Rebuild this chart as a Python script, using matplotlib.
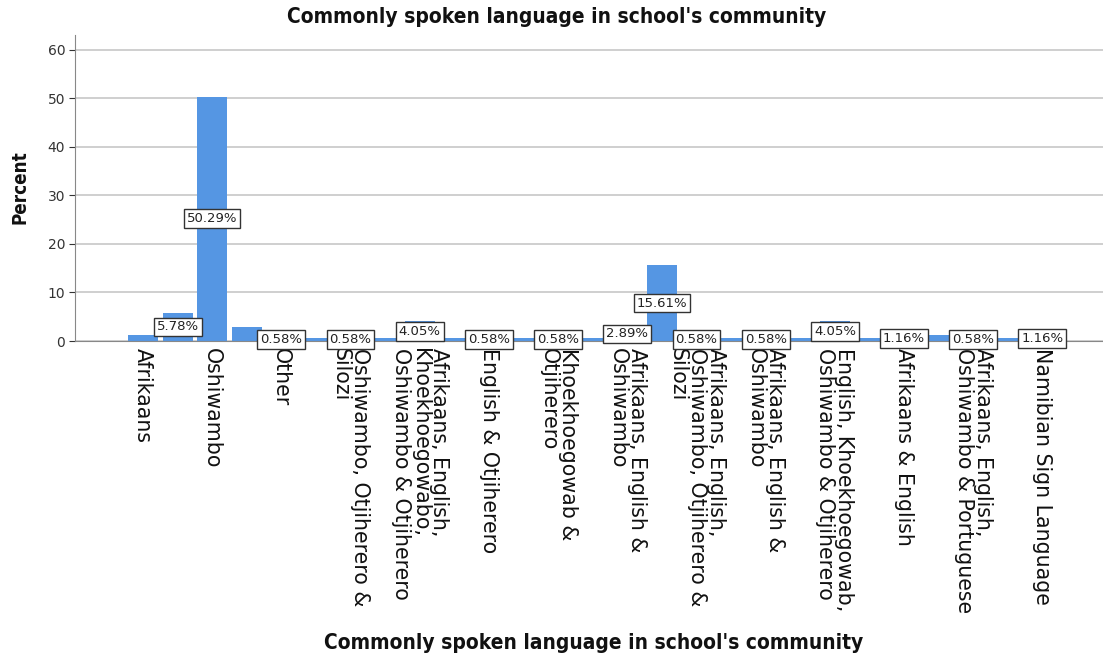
import matplotlib
matplotlib.use("Agg")
import matplotlib.pyplot as plt
import numpy as np

# Category names (only every other category is labelled on the axis)
categories = [
    "Afrikaans", "", "Oshiwambo", "", "Other", "",
    "Oshiwambo, Otjiherero &\nSilozi", "",
    "Afrikaans, English,\nKhoekhoegowabo,\nOshiwambo & Otjiherero", "",
    "English & Otjiherero", "",
    "Khoekhoegowab &\nOtjiherero", "",
    "Afrikaans, English &\nOshiwambo", "",
    "Afrikaans, English,\nOshiwambo, Otjiherero &\nSilozi", "",
    "Afrikaans, English &\nOshiwambo", "",
    "English, Khoekhoegowab,\nOshiwambo & Otjiherero", "",
    "Afrikaans & English", "",
    "Afrikaans, English,\nOshiwambo & Portuguese", "",
    "Namibian Sign Language",
]

percent = [
    1.16, 5.78, 50.29, 2.89, 0.58, 0.58, 0.58, 0.58, 4.05, 0.58,
    0.58, 0.58, 0.58, 0.58, 2.89, 15.61, 0.58, 0.58, 0.58, 0.58,
    4.05, 0.58, 1.16, 1.16, 0.58, 0.58, 1.16,
]

# Bars whose value label is drawn
shown_labels = [1, 2, 4, 6, 8, 10, 12, 14, 15, 16, 18, 20, 22, 24, 26]

yticks = [0, 10, 20, 30, 40, 50, 60]

BAR = "#5596e3"
W, H = 1103, 661

fig = plt.figure(figsize=(W / 100, H / 100), dpi=100)
ax = fig.add_axes([75 / W, 1 - 341 / H, 1 - 75 / W, (341 - 35) / H])

x = np.arange(len(percent))
ax.bar(x, percent, width=0.87, color=BAR, zorder=2)

ax.set_xlim(-1.965, 27.75)
ax.set_ylim(0, 63)
ax.set_yticks(yticks)
ax.tick_params(axis="y", labelsize=10, colors="#333333", length=4, width=0.8,
               pad=3)
ax.tick_params(axis="x", length=0, pad=4)
ax.yaxis.grid(True, color="#cccccc", linewidth=1.3, zorder=0)
ax.set_axisbelow(True)
for s in ("top", "right"):
    ax.spines[s].set_visible(False)
ax.spines["left"].set_color("#888888")
ax.spines["bottom"].set_color("#888888")

ax.set_xticks(x)
ax.set_xticklabels([])
for xi, name in zip(x, categories):
    if name:
        ax.text(xi, -1.4, name, rotation=270, rotation_mode="anchor",
                ha="left", va="center", fontsize=14.8, color="#111111",
                linespacing=0.95, transform=ax.transData, clip_on=False)

for i in shown_labels:
    v = percent[i]
    ax.text(x[i], v / 2, f"{v:.2f}%", ha="center", va="center",
            fontsize=9.5, color="#222222", zorder=4,
            bbox=dict(boxstyle="square,pad=0.22", facecolor="white",
                      edgecolor="#333333", linewidth=1.0))

fig.text(557 / W, 1 - 17 / H, "Commonly spoken language in school's community",
         ha="center", va="center", fontsize=15, fontweight="bold",
         fontstretch="condensed", color="#111111")
fig.text(594 / W, 1 - 643 / H, "Commonly spoken language in school's community",
         ha="center", va="center", fontsize=15, fontweight="bold",
         fontstretch="condensed", color="#111111")
fig.text(20 / W, 1 - 187 / H, "Percent", ha="center", va="center",
         rotation=90, fontsize=13.5, fontweight="bold",
         fontstretch="condensed", color="#111111")

fig.savefig("out.png", dpi=100)
